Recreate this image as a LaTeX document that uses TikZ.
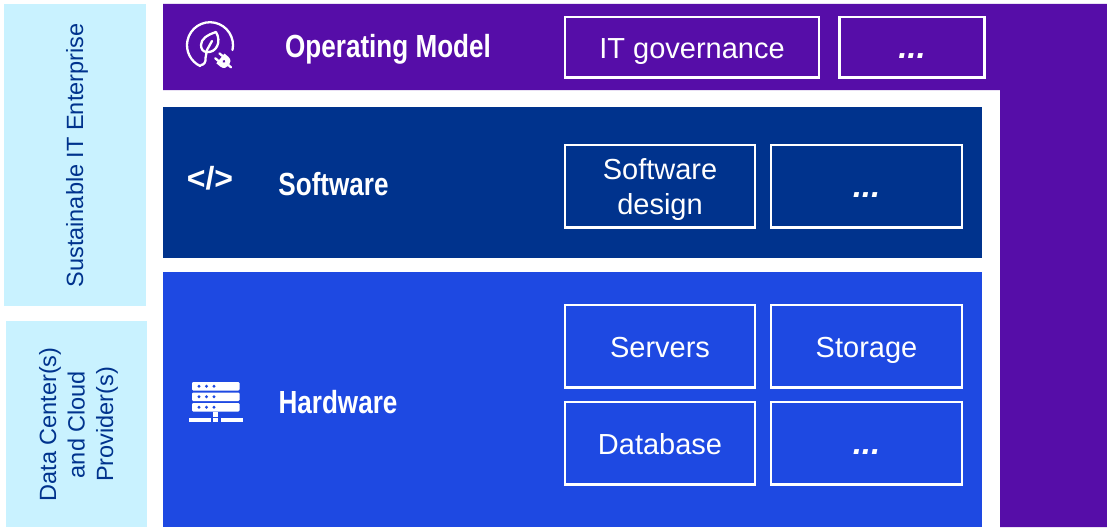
\documentclass[tikz,border=0pt]{standalone}
\usepackage{fontspec}
\setmainfont{Liberation Sans}
\newfontfamily\condbold[FakeStretch=0.815]{Liberation Sans Bold}
\definecolor{pplc}{HTML}{560DA8}
\definecolor{navyc}{HTML}{00338D}
\definecolor{bluec}{HTML}{1E49E2}
\definecolor{pale}{HTML}{C9F2FF}
\newcommand{\bstrut}{\rule[-8pt]{0pt}{38pt}}
\tikzset{
  band/.style={draw=none,inner sep=0pt,outer sep=0pt},
  tbox/.style={draw=white,line width=2.4pt,text=white,align=center,inner sep=0pt,outer sep=0pt,font=\fontsize{29}{35.5}\selectfont},
  dots/.style={tbox,font=\fontsize{33}{36}\selectfont\bfseries\itshape},
  title/.style={text=white,inner sep=0pt,anchor=base,font=\fontsize{32}{36}\condbold},
  side/.style={text=navyc,align=center,inner sep=0pt,rotate=90,font=\fontsize{23.5}{28.5}\selectfont},
  icon/.style={white,line width=2.3pt,line cap=round,line join=round},
}
\begin{document}
\begin{tikzpicture}[x=1pt,y=-1pt]
\useasboundingbox (0,0) rectangle (1107,527);
\fill[white] (0,0) rectangle (1107,527);
% backgrounds
\fill[pale] (4,4) rectangle (146,306);
\fill[pale] (6,321) rectangle (147,527);
\fill[pplc] (163,4) -- (1107,4) -- (1107,527) -- (1000,527) -- (1000,90) -- (163,90) -- cycle;
\node[band,fill=navyc,minimum width=819pt,minimum height=151pt] (sw) at (572.5,182.5) {};
\node[band,fill=bluec,minimum width=819pt,minimum height=255pt] (hw) at (572.5,399.5) {};
% side labels
\node[side] (sust) at (77,155.5) {Sustainable IT Enterprise};
\node[side] (dc) at (78.5,424.5) {Data Center(s)\\and Cloud\\Provider(s)};
% titles
\node[title] (opm) at (388,57) {Operating Model};
\node[title] (swt) at (333.5,195) {Software};
\node[title] (hwt) at (338,413) {Hardware};
% boxes
\node[tbox,minimum width=254pt,minimum height=60pt] (gov) at (692,47.3) {\bstrut IT governance};
\node[dots,minimum width=145pt,minimum height=60pt] (d1) at (912,47.3) {\bstrut ...};
\node[tbox,minimum width=190.5pt,minimum height=82.5pt] (sd) at (660,186.2) {\rule{0pt}{30pt}Software\\design\rule[-8.5pt]{0pt}{8.5pt}};
\node[dots,minimum width=191pt,minimum height=82.5pt] (d2) at (866.5,186.2) {\bstrut ...};
\node[tbox,minimum width=190.5pt,minimum height=82.5pt] (srv) at (660,346.2) {\bstrut Servers};
\node[tbox,minimum width=191pt,minimum height=82.5pt] (sto) at (866.5,346.2) {\bstrut Storage};
\node[tbox,minimum width=190.5pt,minimum height=82.5pt] (db) at (660,443.2) {\bstrut Database};
\node[dots,minimum width=191pt,minimum height=82.5pt] (d3) at (866.5,443.2) {\bstrut ...};
% code icon
\node[text=white,inner sep=0pt,font=\fontsize{32}{36}\selectfont\bfseries] (code) at (210,178.5) {</>};
% leaf-plug icon
\draw[icon] (232.5,50) arc[start angle=12,end angle=-245,radius=23];
\draw[icon] (201,65) .. controls (204,65) and (206,62) .. (205.5,58) -- (207,50) -- (212,41);
\draw[icon] (216,32) .. controls (207,35) and (201,39) .. (201,45) .. controls (201,49) and (203,52) .. (207,52) .. controls (216,53) and (222,42) .. (216,32) -- cycle;
\begin{scope}[shift={(223.5,61)},rotate=-40,scale=1.15]
\fill[white] (-3.5,-5.5) -- (1,-5.5) .. controls (4.5,-5.5) and (6,-2.5) .. (6,0) .. controls (6,2.5) and (4.5,5.5) .. (1,5.5) -- (-3.5,5.5) -- cycle;
\fill[pplc] (0.5,0) circle (1.3);
\draw[icon] (-3,-2.8) -- (-7,-2.8) (-3,2.8) -- (-7,2.8) (5,0) -- (8.5,0);
\end{scope}
% server icon
\foreach \t in {382,392.5,403}{
  \fill[white,rounded corners=1.2pt] (192,\t) rectangle (239.5,\t+8.6);
  \foreach \dx in {199,206.5,214}{\fill[bluec] (\dx,\t+4.3) circle (1.6);}
}
\fill[white] (213,412) rectangle (218,417);
\fill[white] (189,418) rectangle (211,422);
\fill[white] (213,418) rectangle (218,422);
\fill[white] (221,418) rectangle (243,422);
\end{tikzpicture}
\end{document}
